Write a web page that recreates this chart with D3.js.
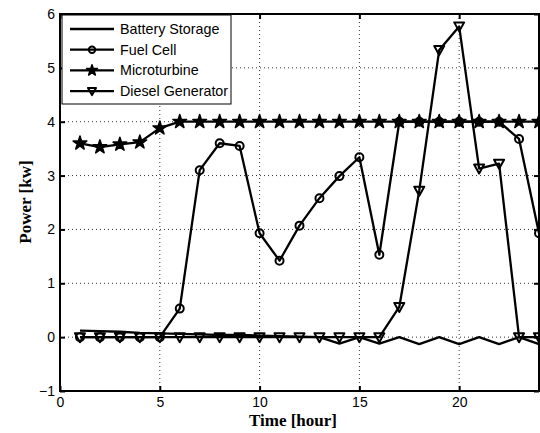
<!DOCTYPE html>
<html>
<head>
<meta charset="utf-8">
<script src="https://cdn.jsdelivr.net/npm/d3@7"></script>
<style>
  body { margin: 0; background: #fff; }
  svg { display: block; }
</style>
</head>
<body>
<svg id="chart" width="540" height="433"></svg>
<script>
// hours 1..24
const hours = [1,2,3,4,5,6,7,8,9,10,11,12,13,14,15,16,17,18,19,20,21,22,23,24];

const batteryStorage = [0.12,0.11,0.10,0.08,0.07,0.06,0.05,0.04,0.04,0.03,0.02,0.01,0.0,-0.12,0.0,-0.12,0.0,-0.13,0.0,-0.13,0.0,-0.13,0.0,-0.13];
const fuelCell = [0,0,0,0,0,0.53,3.1,3.6,3.55,1.93,1.42,2.07,2.58,2.99,3.34,1.53,4,4,4,4,4,4,3.68,1.93];
const microturbine = [3.6,3.53,3.58,3.62,3.88,4,4,4,4,4,4,4,4,4,4,4,4,4,4,4,4,4,4,4];
const dieselGenerator = [0,0,0,0,0,0,0,0,0,0,0,0,0,0,0,0,0.56,2.72,5.33,5.77,3.13,3.22,0,0];

const seriesNames = ["Battery Storage", "Fuel Cell", "Microturbine", "Diesel Generator"];
const xTicks = [0,5,10,15,20];
const yTicks = [-1,0,1,2,3,4,5,6];

const svg = d3.select("#chart");
const plotLeft = 60, plotRight = 539, plotTop = 14, plotBottom = 391;

const x = d3.scaleLinear().domain([0, 24]).range([plotLeft, plotRight]);
const y = d3.scaleLinear().domain([-1, 6]).range([plotBottom, plotTop]);

// dotted grid
const grid = svg.append("g");
grid.selectAll(".gx").data(xTicks.slice(1)).enter().append("line")
    .attr("x1", d => x(d)).attr("x2", d => x(d))
    .attr("y1", plotTop).attr("y2", plotBottom)
    .attr("stroke", "#333").attr("stroke-width", 1)
    .attr("stroke-dasharray", "1,3");
grid.selectAll(".gy").data(yTicks.slice(1, -1)).enter().append("line")
    .attr("x1", plotLeft).attr("x2", plotRight)
    .attr("y1", d => y(d)).attr("y2", d => y(d))
    .attr("stroke", "#333").attr("stroke-width", 1)
    .attr("stroke-dasharray", "1,3");

// axes with inward ticks
const axisFont = "'Liberation Sans', Arial, Helvetica, sans-serif";
function styleAxis(g) {
    g.select(".domain").remove();
    g.selectAll(".tick line").attr("stroke", "#000").attr("stroke-width", 2);
    g.selectAll(".tick text").style("font-family", axisFont).style("font-size", "14px").attr("fill", "#000");
}
svg.append("g").attr("transform", `translate(0,${plotBottom})`)
    .call(d3.axisBottom(x).tickValues(xTicks).tickSize(-5).tickPadding(6).tickFormat(d3.format("d")))
    .call(styleAxis);
svg.append("g").attr("transform", `translate(0,${plotTop})`)
    .call(d3.axisTop(x).tickValues(xTicks).tickSize(-5).tickFormat(""))
    .call(styleAxis);
svg.append("g").attr("transform", `translate(${plotLeft},0)`)
    .call(d3.axisLeft(y).tickValues(yTicks).tickSize(-5).tickPadding(5)
        .tickFormat(d => d < 0 ? "\u2212" + Math.abs(d) : d))
    .call(styleAxis);
svg.append("g").attr("transform", `translate(${plotRight},0)`)
    .call(d3.axisRight(y).tickValues(yTicks).tickSize(-5).tickFormat(""))
    .call(styleAxis);

const line = d3.line().x((d, i) => x(hours[i])).y(d => y(d));

function drawLine(values) {
    svg.append("path")
        .attr("d", line(values))
        .attr("fill", "none")
        .attr("stroke", "#000")
        .attr("stroke-width", 2.3)
        .attr("stroke-linejoin", "round");
}

function drawCircle(g, cx, cy, s = 1) {
    g.append("circle").attr("cx", cx).attr("cy", cy).attr("r", 4 * s)
        .attr("fill", "none").attr("stroke", "#000").attr("stroke-width", 2);
}
function drawStar(g, cx, cy, s = 1) {
    g.append("path").attr("d", d3.symbol().type(d3.symbolStar).size(58 * s * s)())
        .attr("transform", `translate(${cx},${cy})`)
        .attr("fill", "#000").attr("stroke", "#000").attr("stroke-width", 1.5)
        .attr("stroke-linejoin", "round");
}
function drawTri(g, cx, cy, s = 1) {
    g.append("path").attr("d", `M${-5 * s},${-4 * s}L${5 * s},${-4 * s}L0,${5 * s}Z`)
        .attr("transform", `translate(${cx},${cy})`)
        .attr("fill", "none").attr("stroke", "#000").attr("stroke-width", 2)
        .attr("stroke-linejoin", "round");
}

// Battery Storage
drawLine(batteryStorage);

// Fuel Cell
drawLine(fuelCell);
fuelCell.forEach((v, i) => drawCircle(svg, x(hours[i]), y(v)));

// Microturbine
drawLine(microturbine);
microturbine.forEach((v, i) => drawStar(svg, x(hours[i]), y(v)));

// Diesel Generator
drawLine(dieselGenerator);
dieselGenerator.forEach((v, i) => drawTri(svg, x(hours[i]), y(v)));

// frame
svg.append("rect")
    .attr("x", plotLeft).attr("y", plotTop)
    .attr("width", plotRight - plotLeft).attr("height", plotBottom - plotTop)
    .attr("fill", "none").attr("stroke", "#000").attr("stroke-width", 2);

// legend
const legend = svg.append("g");
legend.append("rect")
    .attr("x", 62).attr("y", 15).attr("width", 169).attr("height", 89)
    .attr("fill", "#fff").attr("stroke", "#000").attr("stroke-width", 1);
const markerFns = [null, drawCircle, drawStar, drawTri];
seriesNames.forEach((name, i) => {
    const ly = 29 + i * 20.7;
    legend.append("line")
        .attr("x1", 70).attr("x2", 114).attr("y1", ly).attr("y2", ly)
        .attr("stroke", "#000").attr("stroke-width", 2.3);
    if (markerFns[i]) markerFns[i](legend, 92, ly, 0.8);
    legend.append("text")
        .attr("x", 120).attr("y", ly + 5)
        .style("font-family", axisFont)
        .style("font-size", "14.3px")
        .text(name);
});

// axis labels
svg.append("text")
    .attr("x", 293).attr("y", 426)
    .attr("text-anchor", "middle")
    .style("font-family", "'Liberation Serif', 'Times New Roman', serif")
    .style("font-weight", "bold")
    .style("font-size", "17px")
    .text("Time [hour]");
svg.append("text")
    .attr("transform", `translate(31,202) rotate(-90)`)
    .attr("text-anchor", "middle")
    .style("font-family", "'Liberation Serif', 'Times New Roman', serif")
    .style("font-weight", "bold")
    .style("font-size", "17px")
    .text("Power [kw]");
</script>
</body>
</html>
